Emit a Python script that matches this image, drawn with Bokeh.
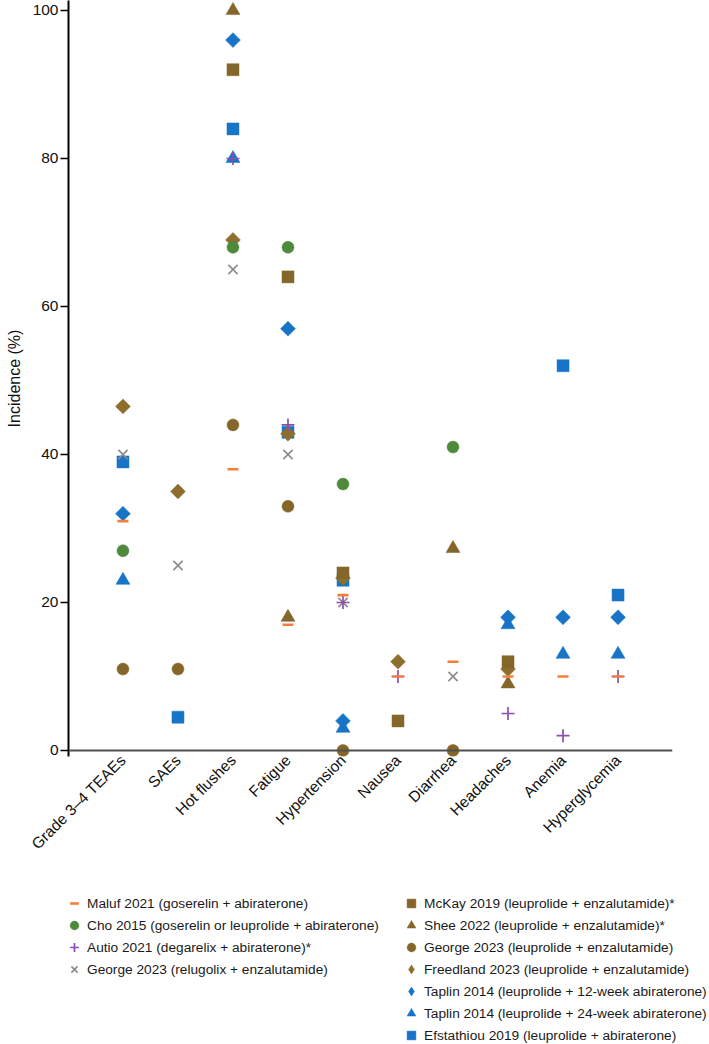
import math
from bokeh.plotting import figure
from bokeh.models import (ColumnDataSource, Legend, LegendItem, Span,
                          FactorRange, Range1d, FixedTicker)
from bokeh.embed import file_html
from bokeh.resources import INLINE

# ---------------- data ----------------
categories = ["Grade 3–4 TEAEs", "SAEs", "Hot flushes", "Fatigue", "Hypertension",
              "Nausea", "Diarrhea", "Headaches", "Anemia", "Hyperglycemia"]

maluf_2021 = [31, None, 38, 17, 21, 10, 12, 10, 10, 10]
cho_2015 = [27, None, 68, 68, 36, None, 41, None, None, None]
autio_2021 = [None, None, 80, 44, 20, 10, None, 5, 2, 10]
george_2023_relugolix = [40, 25, 65, 40, 20, None, 10, None, None, None]
mckay_2019 = [None, None, 92, 64, 24, 4, None, 12, None, None]
shee_2022 = [None, None, 100, 18, None, None, 27.3, 9, None, None]
george_2023_leuprolide = [11, 11, 44, 33, 0, None, 0, None, None, None]
freedland_2023 = [46.5, 35, 69, 42.8, 23.3, 12, None, 11, None, None]
taplin_2014_12wk = [32, None, 96, 57, 4, None, None, 18, 18, 18]
taplin_2014_24wk = [23, None, 80, None, 3, None, None, 17, 13, 13]
efstathiou_2019 = [39, 4.5, 84, 43, 23, None, None, None, 52, 21]

labels = [
    "Maluf 2021 (goserelin + abiraterone)",
    "Cho 2015 (goserelin or leuprolide + abiraterone)",
    "Autio 2021 (degarelix + abiraterone)*",
    "George 2023 (relugolix + enzalutamide)",
    "McKay 2019 (leuprolide + enzalutamide)*",
    "Shee 2022 (leuprolide + enzalutamide)*",
    "George 2023 (leuprolide + enzalutamide)",
    "Freedland 2023 (leuprolide + enzalutamide)",
    "Taplin 2014 (leuprolide + 12-week abiraterone)",
    "Taplin 2014 (leuprolide + 24-week abiraterone)",
    "Efstathiou 2019 (leuprolide + abiraterone)",
]
values = [maluf_2021, cho_2015, autio_2021, george_2023_relugolix, mckay_2019,
          shee_2022, george_2023_leuprolide, freedland_2023, taplin_2014_12wk,
          taplin_2014_24wk, efstathiou_2019]

# ---------------- styles ----------------
ORANGE = "#F3803A"
GREEN = "#4E8A3C"
PURPLE = "#8A4FB0"
GRAY = "#8C8C8C"
BROWN = "#85662A"
BROWN2 = "#8E6E2C"
BLUE = "#1874C6"

# marker used in the chart, marker used in the key, colour, size, line width, angle
styles = [
    dict(marker="dash", key="dash", color=ORANGE, size=11, lw=2.6, angle=0),
    dict(marker="circle", key="circle", color=GREEN, size=12, lw=0.5, angle=0),
    dict(marker="cross", key="cross", color=PURPLE, size=13, lw=1.7, angle=0),
    dict(marker="x", key="x", color=GRAY, size=13, lw=1.6, angle=0),
    dict(marker="square", key="square", color=BROWN, size=12, lw=0.5, angle=0),
    dict(marker="triangle", key="triangle", color=BROWN, size=14, lw=0.5, angle=0),
    dict(marker="circle", key="circle", color=BROWN, size=12, lw=0.5, angle=0),
    dict(marker="square", key="diamond", color=BROWN2, size=10.5, lw=0.5, angle=math.pi / 4),
    dict(marker="square", key="diamond", color=BLUE, size=10.5, lw=0.5, angle=math.pi / 4),
    dict(marker="triangle", key="triangle", color=BLUE, size=14, lw=0.5, angle=0),
    dict(marker="square", key="square", color=BLUE, size=12, lw=0.5, angle=0),
]

FONT = "Liberation Sans"

# ---------------- main chart ----------------
p = figure(width=709, height=880, output_backend="svg", toolbar_location=None,
           x_range=FactorRange(factors=categories, range_padding=0.098,
                               range_padding_units="percent"),
           y_range=Range1d(-0.811, 101.35),
           min_border_left=68, min_border_right=37, min_border_top=0,
           min_border_bottom=124)
p.outline_line_color = None
p.grid.visible = False

ya = p.yaxis[0]
ya.ticker = FixedTicker(ticks=[0, 20, 40, 60, 80, 100])
ya.axis_label = "Incidence (%)"
ya.axis_label_text_font = FONT
ya.axis_label_text_font_size = "16px"
ya.axis_label_text_font_style = "normal"
ya.axis_label_text_color = "#111111"
ya.axis_label_standoff = 7
ya.axis_line_color = "black"
ya.axis_line_width = 2
ya.major_tick_line_color = "black"
ya.major_tick_line_width = 1.5
ya.major_tick_out = 8
ya.major_tick_in = 0
ya.minor_tick_line_color = None
ya.major_label_text_font = FONT
ya.major_label_text_font_size = "15.5px"
ya.major_label_text_color = "#111111"
ya.major_label_standoff = 2

xa = p.xaxis[0]
xa.axis_line_color = None
xa.major_tick_line_color = None
xa.minor_tick_line_color = None
xa.major_tick_out = 0
xa.major_tick_in = 0
xa.major_label_orientation = math.pi / 4
xa.major_label_standoff = 1
xa.major_label_text_font = FONT
xa.major_label_text_font_size = "15.5px"
xa.major_label_text_color = "#111111"

p.add_layout(Span(location=0, dimension="width", line_color="#505050", line_width=2))

for idx in reversed(range(len(labels))):
    vals = values[idx]
    st = styles[idx]
    xs = [c for c, v in zip(categories, vals) if v is not None]
    ys = [v for v in vals if v is not None]
    src = ColumnDataSource(dict(x=xs, y=ys))
    p.scatter(x="x", y="y", source=src, marker=st["marker"], size=st["size"],
              angle=st["angle"], fill_color=st["color"], line_color=st["color"],
              line_width=st["lw"])

# ---------------- legend panel (separate root, own frame) ----------------
LG_H = 164
lg = figure(width=709, height=LG_H, output_backend="svg", toolbar_location=None,
            x_range=Range1d(0, 1), y_range=Range1d(0, 1),
            x_axis_type=None, y_axis_type=None,
            min_border_left=0, min_border_right=0, min_border_top=0, min_border_bottom=0)
lg.outline_line_color = None
lg.grid.visible = False

legend_renderers = []
for idx in range(len(labels)):
    st = styles[idx]
    # key-only renderers: their single point lies outside the visible range
    r = lg.scatter(x=[-5], y=[-5], marker=st["key"], size=st["size"],
                   fill_color=st["color"], line_color=st["color"], line_width=st["lw"])
    legend_renderers.append(r)

ROW = 22

def make_legend(idxs, x0, top):
    bottom_from_top = top + ROW * len(idxs)
    return Legend(items=[LegendItem(label=labels[i], renderers=[legend_renderers[i]]) for i in idxs],
                  location=(x0, LG_H - bottom_from_top), orientation="vertical",
                  glyph_width=22, glyph_height=ROW, label_height=ROW,
                  label_standoff=2, spacing=0, padding=0, margin=0,
                  border_line_color=None, background_fill_alpha=0,
                  label_text_font=FONT, label_text_font_size="13.7px",
                  label_text_color="#1a1a1a", label_text_baseline="middle")

lg.add_layout(make_legend([0, 1, 2, 3], 63, 12))
lg.add_layout(make_legend([4, 5, 6, 7, 8, 9, 10], 400, 12))

open("out.html", "w").write(file_html([p, lg], INLINE))
